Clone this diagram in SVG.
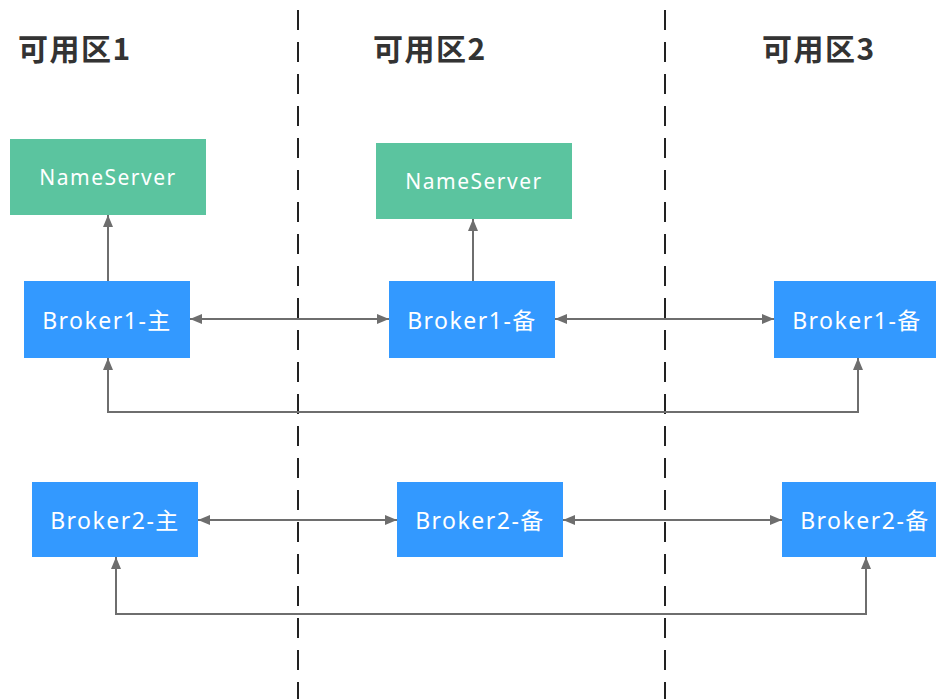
<svg xmlns="http://www.w3.org/2000/svg" width="936" height="699" viewBox="0 0 936 699">
<style>
.title{font-family:"Noto Sans CJK SC","Noto Sans",sans-serif;font-weight:bold;font-size:30px;fill:#333;letter-spacing:1.5px}
.ns rect{fill:#5BC49F}
.br rect{fill:#3399FF}
.lbl{font-family:"Noto Sans","Noto Sans CJK SC",sans-serif;fill:#fff;text-anchor:middle;dominant-baseline:central;letter-spacing:1.5px}
.ns .lbl{font-size:21px}
.br .lbl{font-size:23px}
.zone{stroke:#222;stroke-width:2;stroke-dasharray:20 12;fill:none}
.conn path{stroke:#6E6E6E;stroke-width:2;fill:none}
</style>
<defs>
<marker id="arr" viewBox="0 0 12 10" refX="12" refY="5" markerWidth="12" markerHeight="10" markerUnits="userSpaceOnUse" orient="auto-start-reverse">
<path d="M0,0 L12,5 L0,10 z" fill="#6E6E6E"/>
</marker>
</defs>
<rect width="936" height="699" fill="#fff"/>
<g id="zones">
<line class="zone" x1="298" y1="10" x2="298" y2="699"/>
<line class="zone" x1="665" y1="10" x2="665" y2="699"/>
<text class="title" x="18" y="60">可用区1</text>
<text class="title" x="373" y="60">可用区2</text>
<text class="title" x="762" y="60">可用区3</text>
</g>
<g id="connectors" class="conn">
<path d="M108,281 V215" marker-end="url(#arr)"/>
<path d="M473,281 V219" marker-end="url(#arr)"/>
<path d="M190,319 H389" marker-start="url(#arr)" marker-end="url(#arr)"/>
<path d="M555,319 H774" marker-start="url(#arr)" marker-end="url(#arr)"/>
<path d="M108,358 V412 H858 V358" marker-start="url(#arr)" marker-end="url(#arr)"/>
<path d="M198,520 H397" marker-start="url(#arr)" marker-end="url(#arr)"/>
<path d="M563,520 H782" marker-start="url(#arr)" marker-end="url(#arr)"/>
<path d="M116,557 V614 H866 V557" marker-start="url(#arr)" marker-end="url(#arr)"/>
</g>
<g id="ns1" class="ns"><rect x="10" y="139" width="196" height="76"/><text class="lbl" x="108" y="177">NameServer</text></g>
<g id="ns2" class="ns"><rect x="376" y="143" width="196" height="76"/><text class="lbl" x="474" y="181">NameServer</text></g>
<g id="b1m" class="br"><rect x="24" y="281" width="166" height="77"/><text class="lbl" x="107" y="320">Broker1-主</text></g>
<g id="b1s2" class="br"><rect x="389" y="281" width="166" height="77"/><text class="lbl" x="472" y="320">Broker1-备</text></g>
<g id="b1s3" class="br"><rect x="774" y="281" width="166" height="77"/><text class="lbl" x="857" y="320">Broker1-备</text></g>
<g id="b2m" class="br"><rect x="32" y="482" width="166" height="75"/><text class="lbl" x="115" y="520">Broker2-主</text></g>
<g id="b2s2" class="br"><rect x="397" y="482" width="166" height="75"/><text class="lbl" x="480" y="520">Broker2-备</text></g>
<g id="b2s3" class="br"><rect x="782" y="482" width="166" height="75"/><text class="lbl" x="865" y="520">Broker2-备</text></g>
</svg>
